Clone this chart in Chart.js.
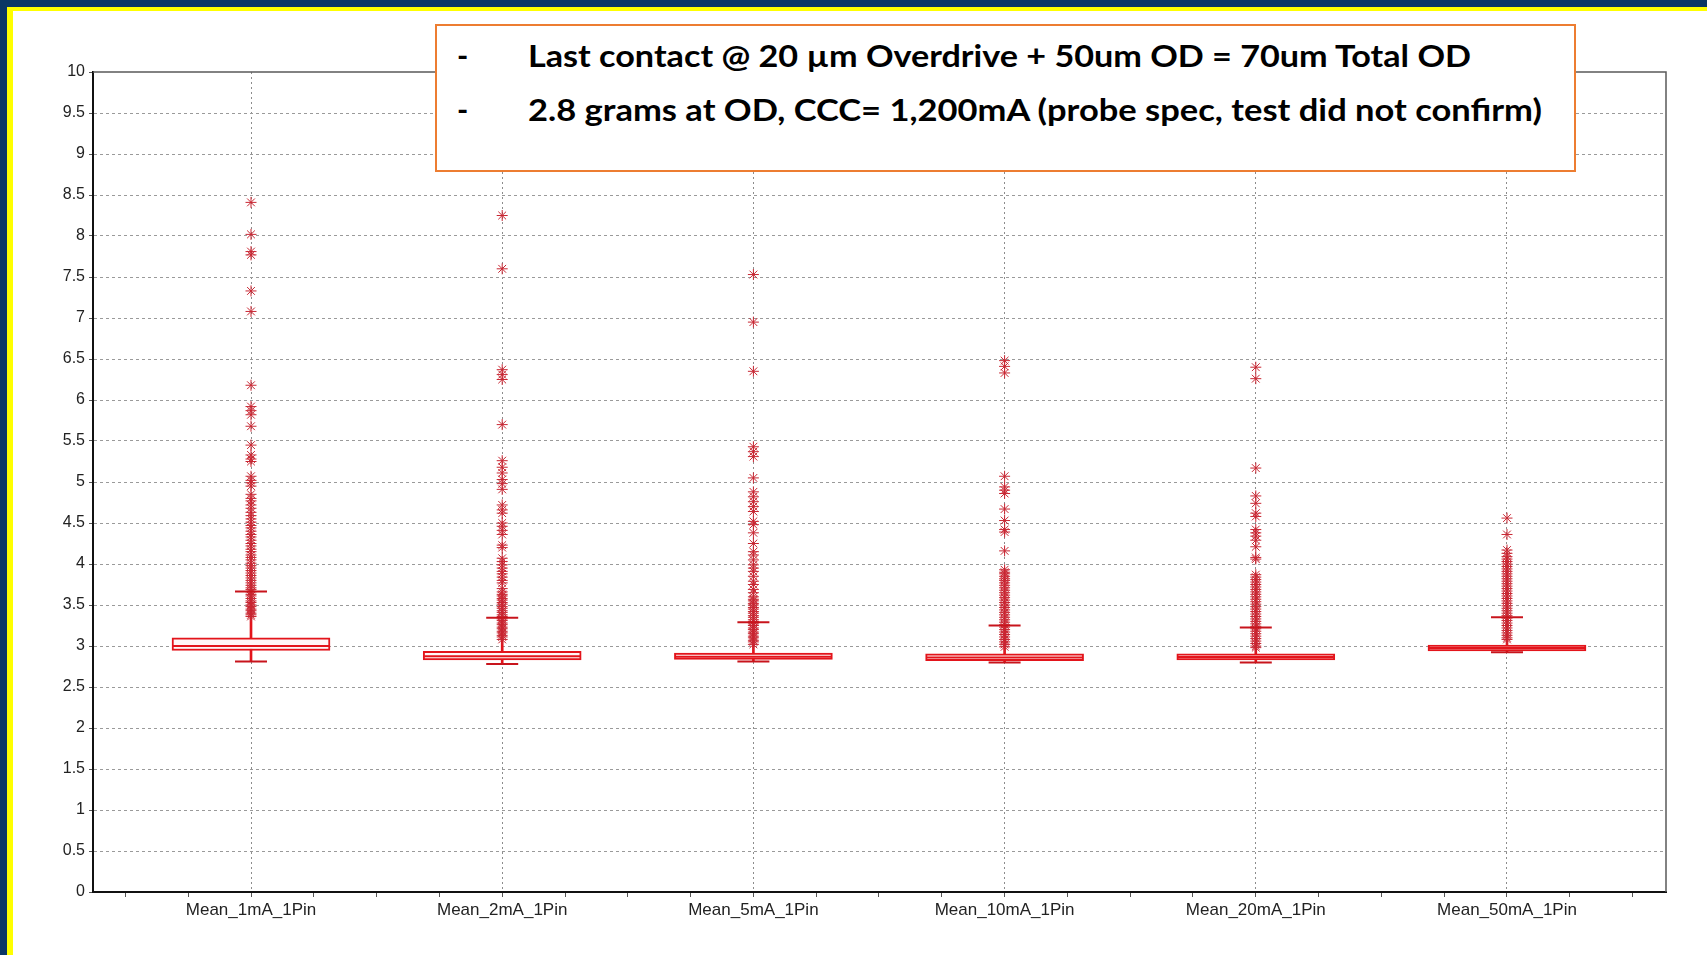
<!DOCTYPE html>
<html>
<head>
<meta charset="utf-8">
<title>Mean per pin - box plot</title>
<script src="https://cdn.jsdelivr.net/npm/chart.js@4.4.1/dist/chart.umd.min.js"></script>
<style>
  body { margin: 0; width: 1707px; height: 955px; position: relative; overflow: hidden; background: #0b3765; }
  #yellow { position: absolute; left: 7px; top: 7px; right: 0; bottom: 0; background: #ffff00; }
  #paper { position: absolute; left: 13px; top: 11px; right: 0; bottom: 0; background: #fff; }
  #chart { position: absolute; left: 0; top: 0; }
  #note { position: absolute; left: 435px; top: 24px; width: 1137px; height: 144px; border: 2px solid #ed7d31; background: #fff; }
  .note-text { position: absolute; white-space: nowrap; font-family: Lato, "Open Sans", sans-serif; font-weight: 700; color: #000; transform-origin: 0 0; }
</style>
</head>
<body>
<div id="yellow"></div>
<div id="paper"></div>
<canvas id="chart" width="1707" height="955"></canvas>
<div id="note"></div>
<div class="note-text" id="dash1" style="left:457px">-</div>
<div class="note-text" id="note1" style="left:528px">Last contact @ 20 µm Overdrive + 50um OD = 70um Total OD</div>
<div class="note-text" id="dash2" style="left:457px">-</div>
<div class="note-text" id="note2" style="left:528px">2.8 grams at OD, CCC= 1,200mA (probe spec, test did not confirm)</div>

<script>
// Datos
const categories = ['Mean_1mA_1Pin', 'Mean_2mA_1Pin', 'Mean_5mA_1Pin', 'Mean_10mA_1Pin', 'Mean_20mA_1Pin', 'Mean_50mA_1Pin'];
const whiskerLow = [2.81, 2.78, 2.81, 2.80, 2.80, 2.925];
const boxQ1 = [2.945, 2.83, 2.835, 2.82, 2.83, 2.94];
const boxMedian = [3.00, 2.875, 2.87, 2.86, 2.865, 2.975];
const boxQ3 = [3.10, 2.935, 2.915, 2.905, 2.905, 3.01];
const whiskerHigh = [3.665, 3.345, 3.29, 3.25, 3.225, 3.35];

// Valores atípicos (asteriscos) de cada columna
const outliers1mA = [8.41, 8.02, 7.81, 7.77, 7.33, 7.08, 6.18, 5.92, 5.87, 5.82, 5.68, 5.45, 5.33, 5.28, 5.25, 5.07, 5.02, 4.99, 4.95,
  4.85, 4.80, 4.77, 4.72, 4.68, 4.63, 4.59, 4.55, 4.51, 4.47, 4.44, 4.40, 4.36, 4.33, 4.29, 4.25, 4.22, 4.18, 4.15, 4.11, 4.08,
  4.05, 4.01, 3.98, 3.95, 3.92, 3.89, 3.86, 3.83, 3.80, 3.77, 3.74, 3.71, 3.69, 3.66, 3.63, 3.61, 3.58, 3.55, 3.53, 3.50, 3.48,
  3.45, 3.43, 3.40, 3.38, 3.36];
const outliers2mA = [8.25, 7.60, 6.37, 6.31, 6.25, 5.70, 5.26, 5.18, 5.11, 5.03, 4.98, 4.91, 4.72, 4.66, 4.62, 4.50, 4.46, 4.41,
  4.36, 4.23, 4.20, 4.07, 4.03, 3.99, 3.95, 3.91, 3.88, 3.84, 3.80, 3.77, 3.70, 3.66, 3.63, 3.61, 3.58, 3.56, 3.53, 3.51, 3.48,
  3.46, 3.43, 3.41, 3.38, 3.36, 3.33, 3.31, 3.28, 3.26, 3.23, 3.21, 3.18, 3.16, 3.13, 3.11, 3.08];
const outliers5mA = [7.53, 6.95, 6.35, 5.43, 5.37, 5.31, 5.05, 4.88, 4.82, 4.76, 4.70, 4.64, 4.52, 4.48, 4.38, 4.25, 4.15, 4.11,
  4.05, 3.99, 3.95, 3.91, 3.85, 3.79, 3.75, 3.69, 3.65, 3.60, 3.57, 3.55, 3.52, 3.50, 3.47, 3.45, 3.42, 3.40, 3.37, 3.35, 3.32,
  3.30, 3.27, 3.25, 3.22, 3.20, 3.17, 3.15, 3.12, 3.10, 3.07, 3.05, 3.02];
const outliers10mA = [6.48, 6.41, 6.33, 5.07, 4.94, 4.90, 4.86, 4.67, 4.53, 4.42, 4.39, 4.16, 3.93, 3.90, 3.88, 3.85, 3.82, 3.80,
  3.77, 3.74, 3.71, 3.68, 3.65, 3.62, 3.59, 3.56, 3.53, 3.50, 3.47, 3.44, 3.41, 3.38, 3.35, 3.32, 3.29, 3.26, 3.23, 3.20, 3.17,
  3.14, 3.11, 3.08, 3.05, 3.02, 2.99];
const outliers20mA = [6.40, 6.26, 5.17, 4.83, 4.74, 4.62, 4.58, 4.42, 4.38, 4.34, 4.29, 4.21, 4.08, 4.06, 3.87, 3.84, 3.81, 3.78,
  3.75, 3.72, 3.69, 3.66, 3.63, 3.60, 3.57, 3.54, 3.51, 3.48, 3.45, 3.42, 3.39, 3.36, 3.33, 3.30, 3.27, 3.24, 3.21, 3.18, 3.15,
  3.12, 3.09, 3.06, 3.03, 3.00, 2.98];
const outliers50mA = [4.56, 4.36, 4.17, 4.13, 4.09, 4.06, 4.03, 4.00, 3.97, 3.94, 3.91, 3.88, 3.85, 3.82, 3.79, 3.76, 3.73, 3.70,
  3.67, 3.64, 3.61, 3.58, 3.55, 3.52, 3.49, 3.46, 3.43, 3.40, 3.37, 3.34, 3.31, 3.28, 3.25, 3.22, 3.19, 3.16, 3.13, 3.10, 3.08];
const outliers = [outliers1mA, outliers2mA, outliers5mA, outliers10mA, outliers20mA, outliers50mA];

const RED = '#e3141b';
const CAP_RED = '#c8141c';
const STAR_RED = '#c82632';
const Y_FONT = { family: '"Liberation Sans", Arial, sans-serif', size: 16 };
const X_FONT = { family: '"Liberation Sans", Arial, sans-serif', size: 17 };

const isWhole = v => Math.abs(v - Math.round(v)) < 1e-6;
const atCategories = values => values.map((v, i) => ({ x: i + 1, y: v }));

// Marco superior y derecho del área de trazado
const plotFrame = {
  id: 'plotFrame',
  beforeDatasetsDraw(chart) {
    const { ctx, chartArea: a } = chart;
    ctx.save();
    ctx.strokeStyle = '#5a5a5a';
    ctx.lineWidth = 1.5;
    ctx.beginPath();
    ctx.moveTo(a.left, a.top);
    ctx.lineTo(a.right, a.top);
    ctx.lineTo(a.right, a.bottom);
    ctx.stroke();
    ctx.restore();
  }
};

new Chart(document.getElementById('chart'), {
  type: 'scatter',
  data: {
    datasets: [
      {
        type: 'scatter',
        label: 'caps',
        data: atCategories(whiskerLow).concat(atCategories(whiskerHigh)),
        pointStyle: 'line',
        pointRadius: 16,
        borderColor: CAP_RED,
        borderWidth: 2,
        order: 0
      },
      {
        type: 'scatter',
        label: 'median',
        data: atCategories(boxMedian),
        pointStyle: 'line',
        pointRadius: 78,
        borderColor: RED,
        borderWidth: 2,
        order: 1
      },
      {
        type: 'bar',
        label: 'box',
        data: categories.map((c, i) => ({ x: i + 1, y: [boxQ1[i], boxQ3[i]] })),
        barThickness: 158,
        grouped: false,
        backgroundColor: '#fff6f6',
        borderColor: RED,
        borderWidth: 2,
        borderSkipped: false,
        order: 2
      },
      {
        type: 'scatter',
        label: 'outliers',
        data: outliers.flatMap((list, i) => list.map(v => ({ x: i + 1, y: v }))),
        pointStyle: 'star',
        pointRadius: 5.5,
        borderColor: STAR_RED,
        backgroundColor: STAR_RED,
        borderWidth: 1,
        order: 3
      },
      {
        type: 'bar',
        label: 'whisker',
        data: categories.map((c, i) => ({ x: i + 1, y: [whiskerLow[i], whiskerHigh[i]] })),
        barThickness: 2,
        grouped: false,
        backgroundColor: RED,
        borderWidth: 0,
        order: 4
      }
    ]
  },
  options: {
    responsive: false,
    animation: false,
    events: [],
    layout: { autoPadding: false, padding: { left: 0, right: 41, top: 72, bottom: 23 } },
    plugins: {
      legend: { display: false },
      tooltip: { enabled: false }
    },
    scales: {
      x: {
        type: 'linear',
        min: 0.371,
        max: 6.633,
        offset: false,
        afterFit: scale => { scale.height = 40; },
        ticks: {
          stepSize: 0.25,
          includeBounds: false,
          autoSkip: false,
          maxRotation: 0,
          minRotation: 0,
          padding: 3,
          color: '#222',
          font: X_FONT,
          callback: v => isWhole(v) ? categories[Math.round(v) - 1] : ''
        },
        grid: {
          offset: false,
          color: ctx => (ctx.tick && isWhole(ctx.tick.value)) ? '#8c8c8c' : 'rgba(0,0,0,0)',
          lineWidth: 1,
          tickLength: 5,
          tickColor: '#555',
          tickWidth: 1
        },
        border: { color: '#111', width: 2, dash: [2, 3] }
      },
      y: {
        type: 'linear',
        min: 0,
        max: 10,
        afterFit: scale => { scale.width = 93; },
        ticks: {
          stepSize: 0.5,
          padding: 4,
          color: '#222',
          font: Y_FONT,
          callback: v => String(v)
        },
        grid: {
          color: ctx => (ctx.tick && ctx.tick.value > 0 && ctx.tick.value < 10) ? '#9a9a9a' : 'rgba(0,0,0,0)',
          lineWidth: 1,
          tickLength: 4,
          tickColor: '#555',
          tickWidth: 1
        },
        border: { color: '#111', width: 2, dash: [3, 3] }
      }
    }
  },
  plugins: [plotFrame]
});

// Nota: altura de mayúsculas como en la imagen y ancho ajustado con scaleX
const noteLines = [
  { id: 'note1', dash: 'dash1', width: 944, baseline: 67 },
  { id: 'note2', dash: 'dash2', width: 1015, baseline: 121 }
];
const noteSize = 21.7 / 0.7165;
const mctx = document.createElement('canvas').getContext('2d');
mctx.font = `700 ${noteSize}px Lato`;
const metrics = mctx.measureText('Hg');
const asc = metrics.fontBoundingBoxAscent;
const desc = metrics.fontBoundingBoxDescent;
noteLines.forEach(l => {
  const natural = mctx.measureText(document.getElementById(l.id).textContent).width;
  const squeeze = l.width / natural;
  [l.id, l.dash].forEach(id => {
    const el = document.getElementById(id);
    el.style.fontSize = noteSize + 'px';
    el.style.lineHeight = (asc + desc) + 'px';
    el.style.top = (l.baseline - asc) + 'px';
  });
  document.getElementById(l.id).style.transform = `scaleX(${squeeze})`;
});
</script>
</body>
</html>
